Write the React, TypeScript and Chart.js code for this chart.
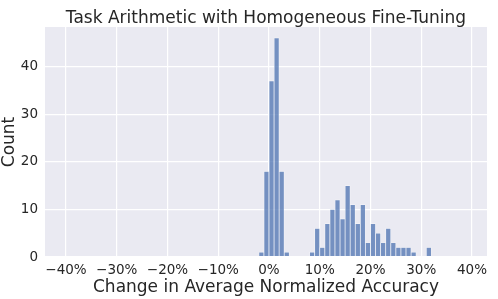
import React, { useEffect, useRef } from "react";
import { Chart, registerables } from "chart.js";

Chart.register(...registerables);

// Histogram bins (center of each 1%-wide bin) and counts
const binCenters = [-1.5, -0.5, 0.5, 1.5, 2.5, 3.5, 8.5, 9.5, 10.5, 11.5, 12.5, 13.5, 14.5, 15.5, 16.5, 17.5, 18.5, 19.5, 20.5, 21.5, 22.5, 23.5, 24.5, 25.5, 26.5, 27.5, 28.5, 31.5];
const counts = [1, 18, 37, 46, 18, 1, 1, 6, 2, 7, 10, 12, 8, 15, 11, 7, 11, 3, 7, 5, 3, 6, 3, 2, 2, 2, 1, 2];
const xTicks = [-40, -30, -20, -10, 0, 10, 20, 30, 40];
const yTicks = [0, 10, 20, 30, 40];

const TITLE = "Task Arithmetic with Homogeneous Fine-Tuning";
const X_LABEL = "Change in Average Normalized Accuracy";
const Y_LABEL = "Count";

const FONT = "'DejaVu Sans', sans-serif";
const TEXT = "#262626";

const bgPlugin = {
  id: "plotBg",
  beforeDraw(chart: any) {
    const { ctx, chartArea } = chart;
    ctx.save();
    ctx.fillStyle = "#EAEAF2";
    ctx.fillRect(chartArea.left, chartArea.top, chartArea.right - chartArea.left, chartArea.bottom - chartArea.top);
    ctx.restore();
  },
};

const titlePlugin = {
  id: "plotTitle",
  afterDraw(chart: any) {
    const { ctx, chartArea } = chart;
    ctx.save();
    ctx.fillStyle = TEXT;
    ctx.font = `17px ${FONT}`;
    ctx.textAlign = "center";
    ctx.textBaseline = "alphabetic";
    ctx.fillText(TITLE, (chartArea.left + chartArea.right) / 2, 22.5);
    ctx.restore();
  },
};

export default function App() {
  const ref = useRef<HTMLCanvasElement>(null);
  useEffect(() => {
    document.body.style.margin = "0";
    const chart = new Chart(ref.current!, {
      type: "bar",
      data: {
        datasets: [
          {
            data: binCenters.map((x, i) => ({ x, y: counts[i] })),
            backgroundColor: "rgba(76,114,176,0.75)",
            borderColor: "rgba(255,255,255,0.55)",
            borderWidth: 0.7,
            borderSkipped: false,
            barPercentage: 1,
            categoryPercentage: 1,
          },
        ],
      },
      plugins: [bgPlugin, titlePlugin],
      options: {
        responsive: false,
        animation: false,
        layout: { padding: { left: 0, right: 11, top: 27, bottom: 0 } },
        plugins: {
          legend: { display: false },
          tooltip: { enabled: false },
          title: { display: false },
        },
        scales: {
          x: {
            type: "linear",
            offset: false,
            min: -44.14,
            max: 42.96,
            afterBuildTicks: (s: any) => {
              s.ticks = xTicks.map((v) => ({ value: v }));
            },
            afterFit: (s: any) => {
              s.height = 42;
            },
            grid: { color: "#FFFFFF", lineWidth: 1.2, drawTicks: false, offset: false },
            border: { display: false },
            ticks: {
              color: TEXT,
              font: { family: FONT, size: 13.5 },
              padding: 5,
              maxRotation: 0,
              autoSkip: false,
              callback: (v: any) => (v < 0 ? "\u2212" + Math.abs(v) : String(v)) + "%",
            },
            title: {
              display: true,
              text: X_LABEL,
              color: TEXT,
              font: { family: FONT, size: 17 },
              padding: { top: 0, bottom: 1 },
            },
          },
          y: {
            min: 0,
            max: 48.3,
            afterBuildTicks: (s: any) => {
              s.ticks = yTicks.map((v) => ({ value: v }));
            },
            afterFit: (s: any) => {
              s.width = 45;
            },
            grid: { color: "#FFFFFF", lineWidth: 1.2, drawTicks: false },
            border: { display: false },
            ticks: {
              color: TEXT,
              font: { family: FONT, size: 13.5 },
              padding: 7,
            },
            title: {
              display: true,
              text: Y_LABEL,
              color: TEXT,
              font: { family: FONT, size: 17 },
              padding: { top: -1, bottom: 0 },
            },
          },
        },
      } as any,
    });
    return () => chart.destroy();
  }, []);
  return (
    <div style={{ position: "absolute", left: 0, top: 0, width: 498, height: 299 }}>
      <canvas ref={ref} width={498} height={299} style={{ display: "block" }} />
    </div>
  );
}
